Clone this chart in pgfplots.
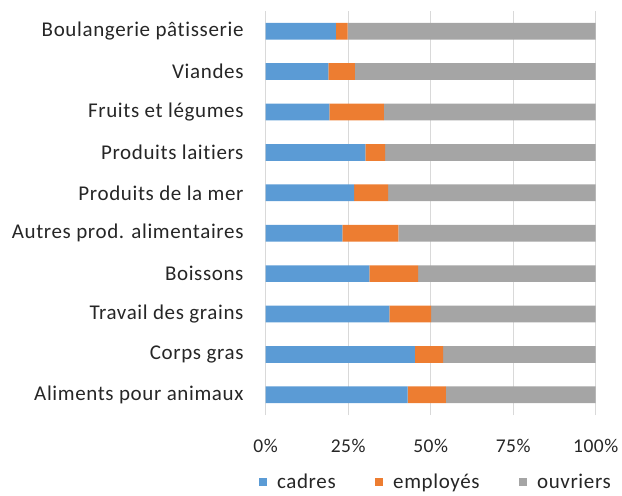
\documentclass[border=0pt]{standalone}
\usepackage{pgfplots}
\usepackage{pgfplotstable}
\usepackage{fontspec}
\setmainfont{Carlito}[Ligatures=NoCommon]
\newfontfamily\labfont{Carlito}[Ligatures=NoCommon, LetterSpace=3]
\pgfplotsset{compat=1.18}
\definecolor{cblue}{HTML}{5B9BD5}
\definecolor{corange}{HTML}{ED7D31}
\definecolor{cgray}{HTML}{A5A5A5}
\definecolor{cgrid}{HTML}{D9D9D9}
\pgfplotstableread{
idx cadres employes ouvriers
0 43.0 11.6 45.4
1 45.2 8.6 46.2
2 37.5 12.6 49.9
3 31.4 14.8 53.8
4 23.2 17.0 59.8
5 26.8 10.3 62.9
6 30.2 6.0 63.8
7 19.3 16.5 64.2
8 19.0 8.0 73.0
9 21.3 3.5 75.2
}\data
\begin{document}
\begin{tikzpicture}
\begin{axis}[
  name=ax,
  scale only axis,
  width=330pt, height=404pt,
  xbar stacked,
  bar width=16.7pt,
  xmin=0, xmax=100,
  ymin=-0.5, ymax=9.5,
  axis lines=left,
  axis line style={draw=none},
  xtick={0,25,50,75,100},
  xticklabel={\pgfmathprintnumber{\tick}\%},
  ytick={0,...,9},
  yticklabels={Aliments pour animaux,Corps gras,Travail des grains,Boissons,Autres prod. alimentaires,Produits de la mer,Produits laitiers,Fruits et légumes,Viandes,Boulangerie pâtisserie},
  major tick length=0pt,
  xmajorgrids,
  grid style={cgrid, line width=1pt},
  /pgf/number format/assume math mode=true,
  tick label style={text=black!85},
  yticklabel style={font=\labfont\fontsize{21}{24}\selectfont, inner sep=0pt, xshift=-22pt},
  xticklabel style={font=\labfont\fontsize{19.5}{22}\selectfont, inner sep=0pt, yshift=-24pt},
  legend style={at={(0.5,0)}, anchor=north, xshift=5pt, yshift=-57pt, draw=none, font=\labfont\fontsize{21}{24}\selectfont, text=black!85, inner sep=0pt,
    /tikz/every odd column/.append style={column sep=8pt},
    /tikz/every even column/.append style={column sep=37pt}},
  legend columns=-1,
  legend image code/.code={\fill[#1] (0pt,-4pt) rectangle (8.5pt,4.5pt);},
]
\addplot[fill=cblue, draw=none] table[x=cadres, y=idx] {\data};
\addplot[fill=corange, draw=none] table[x=employes, y=idx] {\data};
\addplot[fill=cgray, draw=none] table[x=ouvriers, y=idx] {\data};
\legend{cadres,employés,ouvriers}
\end{axis}
\pgfresetboundingbox
\path[use as bounding box] ([shift={(-265.7pt,-80pt)}]ax.south west) rectangle ([shift={(26.3pt,11pt)}]ax.north east);
\end{tikzpicture}
\end{document}
